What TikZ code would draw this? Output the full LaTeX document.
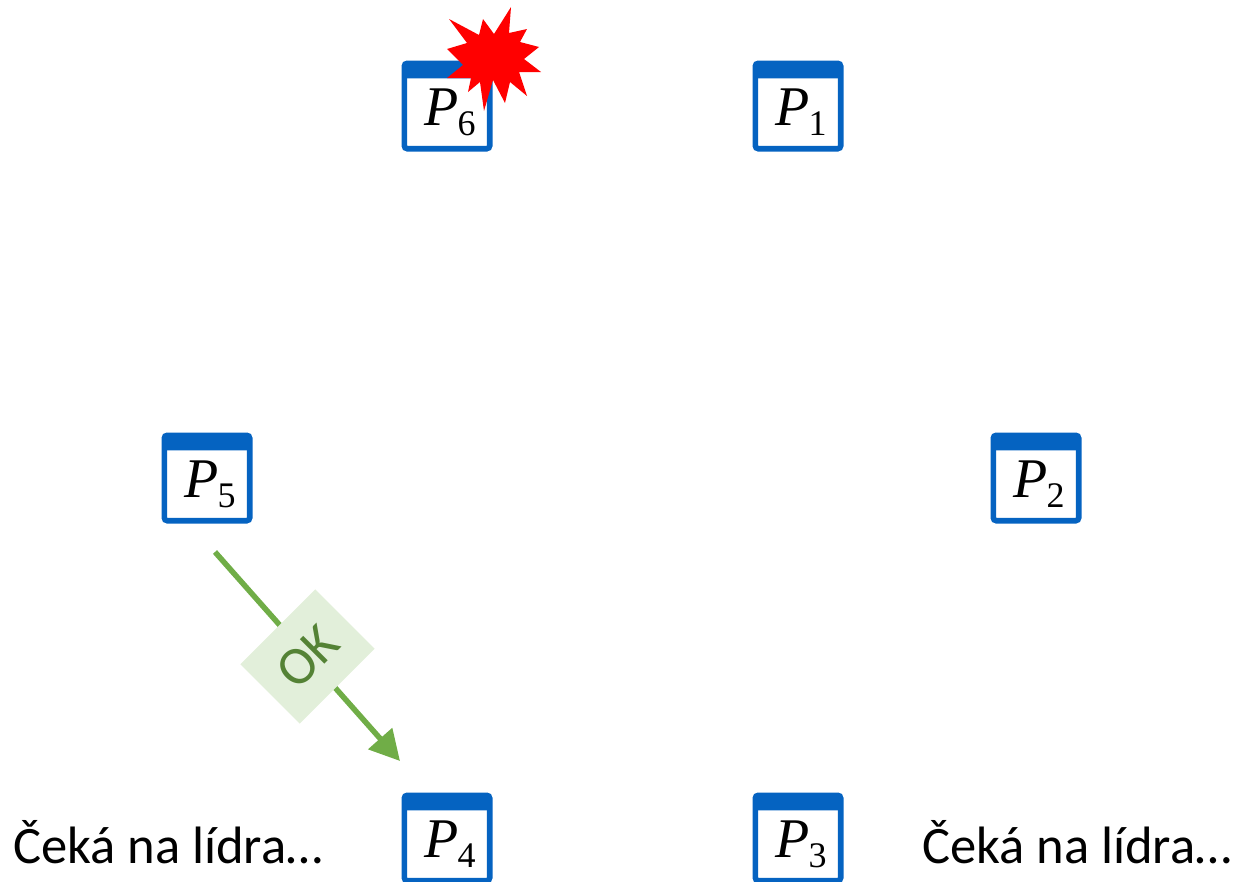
\documentclass[tikz,border=0pt]{standalone}
\usepackage{fontspec}
\setmainfont{Carlito}
\newfontfamily\procfont{Liberation Serif}
\usetikzlibrary{arrows.meta}
\definecolor{procblue}{HTML}{0563C1}
\definecolor{okgreen}{HTML}{70AD47}
\definecolor{okpale}{HTML}{E2EFDA}
\definecolor{okdark}{HTML}{548235}
\newcommand{\procname}[1]{\hspace*{6pt}{\procfont\itshape P}\kern-1pt%
  \raisebox{-10pt}{\procfont\fontsize{36}{36}\selectfont #1}}
\tikzset{
  proc/.style={draw=procblue,fill=white,line width=5.6pt,rounded corners=3pt,
    minimum width=85.4pt,minimum height=85.4pt,inner sep=0pt,outer sep=0pt,
    text height=48pt,text depth=10pt,font=\fontsize{56}{60}\selectfont,
    path picture={\fill[procblue] (path picture bounding box.north west)
      rectangle ([yshift=-15pt]path picture bounding box.north east);}},
  wait/.style={font=\fontsize{52.6}{60}\selectfont,anchor=base west,inner sep=0pt},
  oklabel/.style={fill=okpale,text=okdark,rotate=45,minimum width=106pt,
    minimum height=84pt,inner sep=0pt,font=\fontsize{54}{60}\selectfont}
}
\begin{document}
\begin{tikzpicture}[x=1pt,y=-1pt]
  \useasboundingbox (0,0) rectangle (1238,881);
  \clip (0,0) rectangle (1238,881);
  % processes
  \node[proc] (p6) at (447,106) {\procname{6}};
  \node[proc] (p1) at (798,106) {\procname{1}};
  \node[proc] (p5) at (207,478) {\procname{5}};
  \node[proc] (p2) at (1036,478) {\procname{2}};
  \node[proc] (p4) at (447,838) {\procname{4}};
  \node[proc] (p3) at (798,838) {\procname{3}};
  % crash mark
  \fill[red] (449,19) -- (479,35) -- (483,19) -- (494,34) -- (511,7) -- (509,33)
    -- (527,29) -- (520,42) -- (539,47) -- (524,59) -- (541,72) -- (519,72)
    -- (527,96) -- (510,82) -- (505,103) -- (493,80) -- (484,111) -- (480,82)
    -- (468,92) -- (471,78) -- (447,78) -- (463,65) -- (447,49) -- (467,43) -- cycle;
  % message
  \coordinate (okstart) at (215,552);
  \coordinate (okend) at (400,761);
  \draw[okgreen,line width=5.5pt,-{Triangle[length=30pt,width=31pt]}] (okstart) -- (okend)
    node[midway,oklabel] (ok) {OK};
  % waiting
  \node[wait] (waitl) at (13,863) {Čeká na lídra…};
  \node[wait] (waitr) at (922,863) {Čeká na lídra…};
\end{tikzpicture}
\end{document}
